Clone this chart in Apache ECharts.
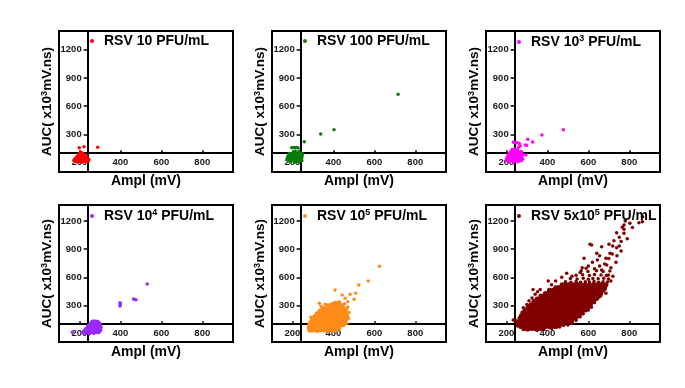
<!DOCTYPE html>
<html>
<head>
<meta charset="utf-8">
<title>RSV scatter</title>
<script src="https://cdn.jsdelivr.net/npm/echarts@6/dist/echarts.min.js"></script>
<style>
  html, body { margin: 0; padding: 0; background: #fff; }
  #chart { width: 685px; height: 388px; }
</style>
</head>
<body>
<div id="chart"></div>
<script>
// panel names (^n is drawn as a superscript)
const panelNames = ['RSV 10 PFU/mL', 'RSV 100 PFU/mL', 'RSV 10^3 PFU/mL',
                    'RSV 10^4 PFU/mL', 'RSV 10^5 PFU/mL', 'RSV 5x10^5 PFU/mL'];
const panelColors = ['#ff0000', '#0a7d0a', '#ff00ff', '#9a2bff', '#ff8c1a', '#800000'];

const xTickValues = [200, 400, 600, 800];
const yTickValues = [300, 600, 900, 1200];

// [Ampl (mV), AUC]
const rsv10 = [
  [199,159],[222,169],[289,163],
  [205,112],[210,105],
  [200,95],[207,92],[214,97],[220,88],
  [195,80],[203,78],[210,82],[218,76],[226,80],
  [188,66],[196,62],[204,68],[212,63],[220,67],[228,62],[236,66],
  [182,50],[190,47],[198,52],[206,46],[214,50],[222,45],[230,51],[238,47],
  [176,35],[184,31],[192,37],[200,32],[208,36],[216,30],[224,35],[232,31],[240,36],[246,33],
  [174,20],[182,17],[190,22],[198,15],[206,21],[214,16],[222,22],[230,18],[238,14],[244,20],
  [185,8],[200,10],[215,7],[230,9]
];

const rsv100 = [
  [258,222],[338,304],[403,350],[716,727],
  [196,158],[204,161],[212,157],[220,160],[228,156],
  [214,122],[232,118],
  [186,96],[200,100],[215,98],[238,102],[250,95],
  [180,80],[192,76],[204,82],[216,78],[228,84],[240,79],[248,82],
  [176,60],[186,57],[196,62],[206,58],[216,63],[226,57],[236,61],[246,58],
  [174,42],[184,38],[194,44],[204,39],[214,43],[224,37],[234,42],[244,39],
  [178,22],[188,18],[198,24],[208,19],[218,23],[228,17],[238,22],[246,19],
  [190,6],[210,4],[230,7]
];

const rsv1e3 = [
  [478,350],[373,294],[304,248],[328,219],[292,187],[295,81],[274,116],
  [234,216],[244,214],[251,212],[262,205],[267,180],[259,163],[299,184],
  [228,140],[240,145],[252,138],
  [222,120],[234,124],[246,118],[258,122],[268,116],
  [214,100],[226,104],[238,98],[250,102],[262,97],[274,103],
  [208,80],[218,84],[228,78],[238,82],[248,77],[258,83],[268,79],[278,84],
  [204,60],[214,64],[224,58],[234,62],[244,57],[254,63],[264,59],[274,62],
  [200,40],[210,44],[220,38],[230,42],[240,37],[250,43],[260,39],[270,42],[280,38],
  [202,20],[212,24],[222,18],[232,22],[242,17],[252,23],[262,19],[272,21],
  [215,8],[235,6],[255,9]
];

const rsv1e4 = [
  [398,294],[399,306],[400,318],[398,328],[464,368],[470,364],[476,359],[531,527],[165,13],
  [262,130],[272,134],[282,131],[290,128],
  [256,115],[266,118],[276,113],[286,117],[296,114],
  [250,100],[260,103],[270,98],[280,102],[290,99],[300,101],
  [244,85],[254,88],[264,83],[274,87],[284,84],[294,88],[303,85],
  [238,70],[248,73],[258,68],[268,72],[278,69],[288,73],[298,70],[305,67],
  [232,55],[242,58],[252,53],[262,57],[272,54],[282,58],[292,55],[302,53],
  [226,40],[236,43],[246,38],[256,42],[266,39],[276,43],[286,40],[296,42],[304,38],
  [220,25],[230,28],[240,23],[250,27],[260,24],[270,28],[280,25],[290,27],[300,24],
  [214,10],[224,13],[234,8],[244,12],[254,9],[264,13],[274,10],[284,12],[294,9],
  [230,0],[250,-2],[270,1]
];

// 10^5: dense body and loose points
const rsv1e5Core = [
  [285,35],[303,38],[321,33],[339,37],[357,34],[375,38],[393,35],[411,37],
  [282,60],[300,63],[318,58],[336,62],[354,59],[372,63],[390,58],[408,62],[426,60],
  [285,90],[303,93],[321,88],[339,92],[357,89],[375,93],[393,88],[411,92],[429,89],[447,93],
  [290,120],[308,123],[326,118],[344,122],[362,119],[380,123],[398,118],[416,122],[434,119],[452,121],
  [298,150],[316,153],[334,148],[352,152],[370,149],[388,153],[406,148],[424,152],[442,149],[460,151],
  [308,180],[326,183],[344,178],[362,182],[380,179],[398,183],[416,178],[434,182],[452,179],[466,181],
  [320,210],[338,213],[356,208],[374,212],[392,209],[410,213],[428,208],[446,212],[462,209],
  [335,240],[353,243],[371,238],[389,242],[407,239],[425,243],[443,238],[458,241],
  [358,270],[376,273],[394,268],[412,272],[430,269],[448,273],
  [385,298],[403,301],[421,296],[438,300],
  [408,322],[426,325]
];
const rsv1e5Loose = [
  [625,718],[570,560],[524,517],[509,429],[501,365],[481,418],[443,411],[408,464],
  [457,376],[331,322],[470,340],[430,335],[360,312],[340,290],[470,282],[455,318],
  [372,305],[392,318],[345,268],[465,262],[476,225],[474,160],[465,110],[278,85],[290,175]
];

// 5x10^5: dense body and loose points
const rsv5e5Core = [
  [285,52],[305,48],[325,53],[345,49],[365,54],[380,50],
  [270,76],[290,73],[310,78],[330,74],[350,77],[370,72],[390,76],[410,73],[430,77],[442,74],
  [258,101],[278,98],[298,103],[318,99],[338,102],[358,97],[378,101],[398,98],[418,103],[438,99],[458,102],[478,97],
  [262,128],[282,132],[302,127],[322,131],[342,129],[362,133],[382,128],[402,132],[422,127],[442,131],[462,128],[482,132],[502,129],[518,127],
  [266,161],[280,158],[300,163],[320,159],[340,162],[360,157],[380,161],[400,158],[420,163],[440,159],[460,162],[480,157],[500,161],[518,158],[536,162],
  [272,188],[290,192],[310,187],[330,191],[350,189],[370,193],[390,188],[410,192],[430,187],[450,191],[470,189],[490,193],[510,188],[530,191],[550,188],
  [280,221],[296,218],[316,223],[336,219],[356,222],[376,217],[396,221],[416,218],[436,223],[456,219],[476,222],[496,217],[516,221],[536,218],[554,222],[568,219],
  [292,248],[310,252],[330,247],[350,251],[370,249],[390,253],[410,248],[430,252],[450,247],[470,251],[490,249],[510,253],[530,248],[550,252],[568,249],[586,252],
  [305,281],[320,278],[340,283],[360,279],[380,282],[400,277],[420,281],[440,278],[460,283],[480,279],[500,282],[520,277],[540,281],[560,278],[578,282],[597,279],
  [320,308],[338,312],[358,307],[378,311],[398,309],[418,313],[438,308],[458,312],[478,307],[498,311],[518,309],[538,313],[558,308],[578,312],[596,309],[610,312],
  [334,341],[350,338],[370,343],[390,339],[410,342],[430,337],[450,341],[470,338],[490,343],[510,339],[530,342],[550,337],[570,341],[590,338],[608,342],[622,339],
  [350,368],[368,372],[388,367],[408,371],[428,369],[448,373],[468,368],[488,372],[508,367],[528,371],[548,369],[568,373],[588,368],[608,372],[624,369],[636,372],
  [368,401],[385,398],[405,403],[425,399],[445,402],[465,397],[485,401],[505,398],[525,403],[545,399],[565,402],[585,397],[605,401],[625,398],[640,402],[650,398],
  [390,428],[408,432],[428,427],[448,431],[468,429],[488,433],[508,428],[528,432],[548,427],[568,431],[588,429],[608,433],[628,428],[646,431],[660,428],
  [410,461],[425,458],[445,463],[465,459],[485,462],[505,457],[525,461],[545,458],[565,463],[585,459],[605,462],[625,457],[645,461],[660,458],[671,462],
  [440,488],[455,492],[472,487],[492,491],[512,489],[532,493],[552,488],[572,492],[592,487],[612,491],[632,489],[652,493],[668,488],[680,492],
  [472,521],[488,518],[505,523],[525,519],[545,522],[565,517],[585,521],[605,518],[625,523],[645,519],[665,522],[684,518]
];
const rsv5e5Loose = [
  [488,552],[515,548],[540,555],[562,546],[585,553],[605,549],[628,556],[650,547],[672,552],[693,549],
  [512,588],[545,582],[575,590],[600,580],[622,587],[648,583],[675,589],[698,581],
  [540,622],[572,628],[605,620],[630,630],[662,624],[688,619],
  [565,668],[598,660],[640,670],[672,662],[705,667],
  [255,80],[250,115],[245,140],[233,144],[282,276],[300,310],[310,350],[325,380],[340,420],
  [352,445],[365,470],[330,470],[404,560],[420,520],[440,560],[470,600],[494,642],[520,610],
  [300,40],[350,35],[420,55],[460,70],[500,90],[520,110],[540,140],[560,180],[575,210],
  [600,250],[615,280],[630,330],[645,370],[660,400],[686,429],[680,470],[690,520],[710,560],[720,610],
  [579,802],[589,695],[608,951],[616,944],[641,855],[644,784],[665,926],[665,677],[686,802],
  [690,731],[698,624],[701,951],[706,855],[717,848],[719,933],[725,989],[738,915],[738,1075],
  [751,933],[751,1026],[766,1133],[774,1112],[774,1068],[774,1157],[803,1175],[847,1181],
  [864,1192],[865,1245],[790,1010],[760,880],[735,760],[710,700],[680,740],[655,720],[630,690],
  [620,760],[600,720],[570,700],[560,650],[760,980],[815,1130],[780,1200],[740,830],[700,800],[655,830]
];

// each panel: list of [points, dot size]
const panelLayers = [
  [[rsv10, 3.5]],
  [[rsv100, 3.5]],
  [[rsv1e3, 3.5]],
  [[rsv1e4, 3.5]],
  [[rsv1e5Core, 5], [rsv1e5Loose, 3.5]],
  [[rsv5e5Core, 5], [rsv5e5Loose, 3.5]]
];

// layout (px) and axis ranges
const colLeft = [59, 272, 486];
const rowTop = [31, 205];
const plotW = 174;
const rowH = [141, 137];
const xRange = [100, 950];
const yRanges = [[-100, 1400], [-90, 1370]];
// the axes cross inside the frame at these values
const crossX = 240;
const crossY = 100;

const fontFam = 'Arial, "Liberation Sans", Helvetica, sans-serif';

function richName(name) {
  return '{b|' + name.replace(/\^(\d)/, '}{sup|$1}{b|') + '}';
}

let grids = [], xAxes = [], yAxes = [], series = [], legends = [];

for (let i = 0; i < 6; i++) {
  const r = Math.floor(i / 3), c = i % 3;
  const yr = yRanges[r];
  const xOff = -(crossY - yr[0]) / (yr[1] - yr[0]) * rowH[r];
  const yOff = -(crossX - xRange[0]) / (xRange[1] - xRange[0]) * plotW;

  grids.push({
    left: colLeft[c], top: rowTop[r], width: plotW, height: rowH[r],
    show: true, borderColor: '#000', borderWidth: 2, backgroundColor: 'transparent',
    containLabel: false, outerBoundsMode: 'none'
  });

  xAxes.push({
    gridIndex: i, type: 'value', min: xRange[0], max: xRange[1],
    position: 'bottom', offset: xOff,
    axisLine: { onZero: false, lineStyle: { color: '#000', width: 2 } },
    axisTick: { customValues: xTickValues, inside: true, length: 3, lineStyle: { color: '#000', width: 1.5 } },
    axisLabel: { customValues: xTickValues, margin: 4, fontSize: 9.5, fontWeight: 'bold',
                 color: '#1a1a1a', fontFamily: fontFam, formatter: v => String(v) },
    splitLine: { show: false },
    name: 'Ampl (mV)', nameLocation: 'middle', nameGap: 21, nameMoveOverlap: false,
    nameTextStyle: { fontSize: 14, fontWeight: 'bold', color: '#000', fontFamily: fontFam }
  });

  yAxes.push({
    gridIndex: i, type: 'value', min: yr[0], max: yr[1],
    position: 'left', offset: yOff,
    axisLine: { onZero: false, lineStyle: { color: '#000', width: 2 } },
    axisTick: { customValues: yTickValues, length: 4, lineStyle: { color: '#000', width: 1.5 } },
    axisLabel: { customValues: yTickValues, margin: 6, fontSize: 9.5, fontWeight: 'bold',
                 color: '#1a1a1a', fontFamily: fontFam, formatter: v => String(v) },
    splitLine: { show: false },
    name: '{b|AUC( x10}{sup|3}{b|mV.ns)}', nameLocation: 'middle', nameGap: 33, nameMoveOverlap: false,
    nameTextStyle: {
      rich: {
        b: { fontSize: 13.5, fontWeight: 'bold', color: '#000', fontFamily: fontFam, lineHeight: 15 },
        sup: { fontSize: 9, fontWeight: 'bold', color: '#000', fontFamily: fontFam, verticalAlign: 'top', lineHeight: 9 }
      }
    }
  });

  panelLayers[i].forEach(layer => {
    series.push({
      name: panelNames[i], type: 'scatter', xAxisIndex: i, yAxisIndex: i,
      symbol: 'circle', symbolSize: layer[1],
      itemStyle: { color: panelColors[i], opacity: 1, borderWidth: 0 },
      data: layer[0]
    });
  });

  legends.push({
    data: [panelNames[i]], left: colLeft[c] + 31, top: rowTop[r] + 3, padding: 0,
    icon: 'circle', itemWidth: 14, itemHeight: 4, selectedMode: false,
    formatter: richName,
    textStyle: {
      rich: {
        b: { fontSize: 14, fontWeight: 'bold', color: '#000', fontFamily: fontFam, lineHeight: 16 },
        sup: { fontSize: 9, fontWeight: 'bold', color: '#000', fontFamily: fontFam, verticalAlign: 'top', lineHeight: 9 }
      }
    }
  });
}

let myChart = echarts.init(document.getElementById('chart'), null, { renderer: 'canvas' });
myChart.setOption({
  backgroundColor: '#fff',
  animation: false,
  grid: grids,
  xAxis: xAxes,
  yAxis: yAxes,
  legend: legends,
  series: series
});
</script>
</body>
</html>
